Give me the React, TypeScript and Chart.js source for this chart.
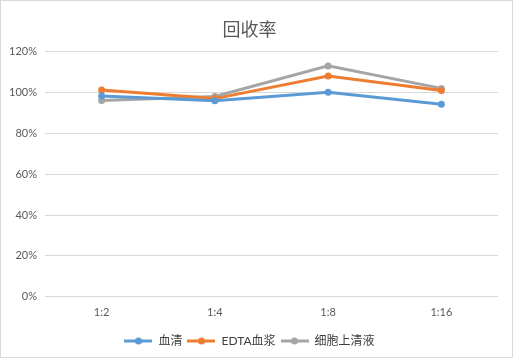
import React, { useEffect, useRef } from "react";
import { Chart, registerables } from "chart.js";

Chart.register(...registerables);

const categories = ["1:2", "1:4", "1:8", "1:16"];
const serum = [98.3, 96.0, 100.1, 94.2];
const edtaPlasma = [101.2, 97.0, 108.0, 101.0];
const supernatant = [96.1, 98.0, 113.0, 102.0];
const seriesNames = ["血清", "EDTA血浆", "细胞上清液"];
const seriesColors = ["#5B9BD5", "#ED7D31", "#A5A5A5"];
const yTicks = [0, 20, 40, 60, 80, 100, 120];

const FONT = "Lato, 'Noto Sans CJK SC', sans-serif";

function makeMarker(color: string): HTMLCanvasElement {
  const c = document.createElement("canvas");
  c.width = 28;
  c.height = 8;
  const ctx = c.getContext("2d")!;
  ctx.strokeStyle = color;
  ctx.lineWidth = 3;
  ctx.beginPath();
  ctx.moveTo(0, 4);
  ctx.lineTo(28, 4);
  ctx.stroke();
  ctx.fillStyle = color;
  ctx.beginPath();
  ctx.arc(14, 4, 3.5, 0, Math.PI * 2);
  ctx.fill();
  return c;
}

export default function App() {
  const ref = useRef<HTMLCanvasElement | null>(null);
  useEffect(() => {
    document.body.style.margin = "0";
    const markers = seriesColors.map(makeMarker);
    const data = [serum, edtaPlasma, supernatant];
    const chart = new Chart(ref.current!, {
      type: "line",
      data: {
        labels: categories,
        datasets: data.map((d, i) => ({
          label: seriesNames[i],
          data: d,
          borderColor: seriesColors[i],
          backgroundColor: seriesColors[i],
          borderWidth: 3,
          pointRadius: 3.5,
          pointBorderWidth: 0,
          pointBackgroundColor: seriesColors[i],
          tension: 0,
        })),
      },
      options: {
        responsive: false,
        animation: false,
        layout: { padding: { left: 0, right: 14, top: 0, bottom: 0 } },
        plugins: {
          title: {
            display: true,
            text: "回收率",
            color: "#595959",
            font: { family: FONT, size: 18, weight: "normal" },
            padding: { top: 18, bottom: 11 },
          },
          legend: {
            position: "bottom",
            labels: {
              color: "#404040",
              font: { family: FONT, size: 12 },
              usePointStyle: true,
              pointStyleWidth: 28,
              padding: 5,
              generateLabels: (ch: any) => {
                const items = Chart.defaults.plugins.legend.labels.generateLabels(ch);
                return items.map((it: any, i: number) => ({ ...it, pointStyle: markers[i] }));
              },
            },
          },
          tooltip: { enabled: false },
        },
        scales: {
          x: {
            offset: true,
            afterFit: (s: any) => {
              s.height += 2;
            },
            grid: { display: false, drawTicks: false },
            border: { display: false },
            ticks: { color: "#595959", font: { family: FONT, size: 11 }, padding: 9 },
          },
          y: {
            min: 0,
            max: 120,
            afterBuildTicks: (s: any) => {
              s.ticks = yTicks.map((v) => ({ value: v }));
            },
            afterFit: (s: any) => {
              s.width = 44;
            },
            grid: { color: "#D9D9D9", drawTicks: false, lineWidth: 1 },
            border: { display: false },
            ticks: {
              color: "#595959",
              font: { family: FONT, size: 11 },
              padding: 8,
              callback: (v: any) => v + "%",
            },
          },
        },
      },
    });
    return () => chart.destroy();
  }, []);
  return (
    <div
      style={{
        position: "absolute",
        left: 0,
        top: 0,
        width: 513,
        height: 358,
        boxSizing: "border-box",
        border: "1px solid #D9D9D9",
        background: "#fff",
      }}
    >
      <canvas ref={ref} width={511} height={356} style={{ display: "block" }} />
    </div>
  );
}
